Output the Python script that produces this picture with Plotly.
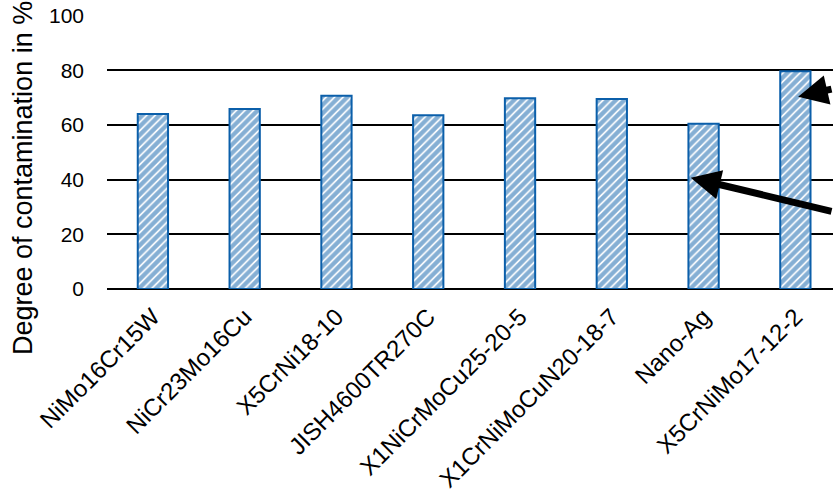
import plotly.graph_objects as go

categories = ["NiMo16Cr15W", "NiCr23Mo16Cu", "X5CrNi18-10", "JISH4600TR270C",
              "X1NiCrMoCu25-20-5", "X1CrNiMoCuN20-18-7", "Nano-Ag", "X5CrNiMo17-12-2"]
contamination = [64.0, 65.8, 70.7, 63.5, 69.8, 69.5, 60.4, 79.6]
y_ticks = [0, 20, 40, 60, 80, 100]

BLUE = "#0B5FAA"
FONT = "Arial, Liberation Sans, sans-serif"

fig = go.Figure(go.Bar(
    x=categories,
    y=contamination,
    width=0.33,
    marker=dict(
        color="white",
        line=dict(color=BLUE, width=2),
        pattern=dict(shape="/", fgcolor=BLUE, bgcolor="white", size=6, solidity=0.72),
    ),
))

# arrows pointing in from outside the cropped area
fig.add_annotation(x=5.86, y=40.7, xref="x", yref="y", text="", showarrow=True,
                   arrowhead=2, arrowsize=0.85, arrowwidth=7, arrowcolor="black",
                   ax=220, ay=34)
fig.add_annotation(x=7.03, y=70.3, xref="x", yref="y", text="", showarrow=True,
                   arrowhead=2, arrowsize=0.85, arrowwidth=7, arrowcolor="black",
                   ax=80, ay=-8)

# y axis title
fig.add_annotation(x=0, y=0.405, xref="paper", yref="paper", xshift=-84,
                   text="Degree of contamination in %", textangle=-90,
                   showarrow=False, xanchor="center", yanchor="middle",
                   font=dict(family=FONT, size=27, color="black"))

fig.update_layout(
    width=833, height=493,
    margin=dict(l=107, r=0, t=15, b=204),
    plot_bgcolor="white", paper_bgcolor="white",
    showlegend=False,
    font=dict(family=FONT, color="black"),
)
fig.update_xaxes(
    range=[-0.5, 7.41],
    tickangle=-45,
    tickfont=dict(family=FONT, size=24, color="black"),
    showgrid=False, showline=False, ticks="", ticklabelstandoff=8,
)
fig.update_yaxes(
    range=[0, 100.2],
    tickvals=y_ticks,
    tickfont=dict(family=FONT, size=21, color="black"),
    showgrid=True, gridcolor="black", gridwidth=2,
    zeroline=True, zerolinecolor="black", zerolinewidth=2,
    showline=False, ticks="", ticklabelstandoff=22,
)

fig.write_html("out.html")
